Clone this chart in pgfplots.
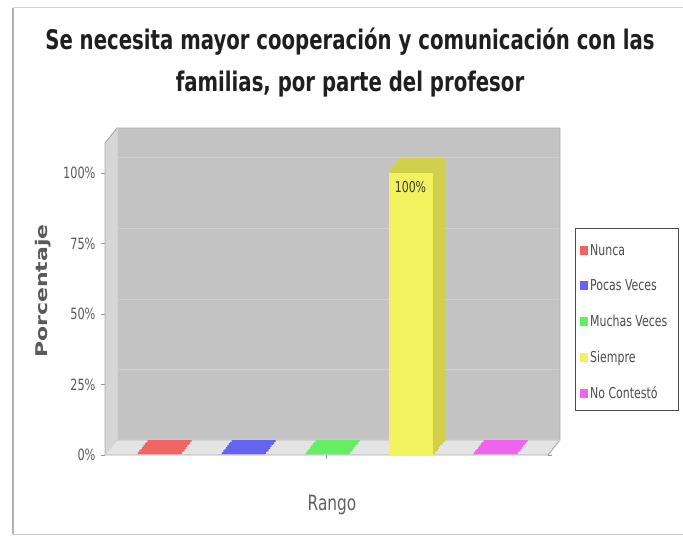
\documentclass[border=0pt]{standalone}
\usepackage{fontspec}
\setmainfont{DejaVu Sans}[FakeStretch=0.73]
\newfontfamily\plainfont{DejaVu Sans}
\usepackage{graphicx}
\usepackage{pgfplots}
\pgfplotsset{compat=1.18}

\definecolor{cN}{HTML}{F06464}
\definecolor{cP}{HTML}{6464F0}
\definecolor{cM}{HTML}{64EE64}
\definecolor{cS}{HTML}{F2F25E}
\definecolor{cC}{HTML}{EE64EE}
\definecolor{cSd}{HTML}{D0D04C}
\definecolor{wallback}{HTML}{C3C3C3}
\definecolor{wallleft}{HTML}{D6D6D6}
\definecolor{wallfloor}{HTML}{E4E4E4}
\definecolor{gridc}{HTML}{D0D0D0}
\definecolor{edgec}{HTML}{A8A8A8}

\tikzset{extrude/.style={
  preaction={draw=#1,fill=#1,line width=2pt,transform canvas={shift={(1.375pt,1.75pt)}}},
  preaction={draw=#1,fill=#1,line width=2pt,transform canvas={shift={(2.75pt,3.5pt)}}},
  preaction={draw=#1,fill=#1,line width=2pt,transform canvas={shift={(4.125pt,5.25pt)}}},
  preaction={draw=#1,fill=#1,line width=2pt,transform canvas={shift={(5.5pt,7pt)}}},
  preaction={draw=#1,fill=#1,line width=2pt,transform canvas={shift={(6.875pt,8.75pt)}}},
  preaction={draw=#1,fill=#1,line width=2pt,transform canvas={shift={(8.25pt,10.5pt)}}},
  preaction={draw=#1,fill=#1,line width=2pt,transform canvas={shift={(9.625pt,12.25pt)}}},
  preaction={draw=#1,fill=#1,line width=2pt,transform canvas={shift={(11pt,14pt)}}}
}}

\pgfplotstableread{
x y
0 0
}\tNunca
\pgfplotstableread{
x y
0 0
}\tPocas
\pgfplotstableread{
x y
0 0
}\tMuchas
\pgfplotstableread{
x y
0 100
}\tSiempre
\pgfplotstableread{
x y
0 0
}\tNoCont

\begin{document}
\begin{tikzpicture}
\path[use as bounding box] (0pt,0pt) rectangle (683pt,536pt);
% outer frame
\draw[gray!35, line width=1pt] (13pt,528pt) -- (700pt,528pt);
\draw[gray!45, line width=1pt] (13pt,2pt) -- (700pt,2pt);
\draw[gray!60, line width=1.6pt] (13pt,2pt) -- (13pt,528pt);

% title
\node[anchor=base, font=\bfseries\fontsize{27}{30}\selectfont, text=black!88] at (350pt,486pt) {Se necesita mayor cooperación y comunicación con las};
\node[anchor=base, font=\bfseries\fontsize{27}{30}\selectfont, text=black!88] at (350pt,444pt) {familias, por parte del profesor};

% legend frame
\draw[gray!60!black, line width=0.8pt, fill=white] (575pt,126pt) rectangle (678pt,308pt);

\begin{axis}[
  at={(105pt,81pt)}, anchor=south west,
  scale only axis, width=443pt, height=312pt,
  xmin=-1, xmax=1, ymin=0, ymax=110.6,
  clip=false,
  axis line style={draw=none},
  xtick={0}, xticklabels={},
  ytick={0,25,50,75,100},
  yticklabels={0\%,25\%,50\%,75\%,100\%},
  tick align=outside, major tick length=4pt,
  tick style={gray!80, line width=0.6pt},
  yticklabel style={font=\fontsize{15.5}{16}\selectfont, text=gray!70!black, xshift=-2pt},
  legend style={at={(1.0655,0.7148)}, anchor=north west, draw=none,
    fill=none, font=\fontsize{15}{16}\selectfont, text=gray!60!black,
    row sep=19pt, inner ysep=10pt, inner xsep=3pt, cells={anchor=west}},
]
% walls
\fill[wallback] ([shift={(12pt,15pt)}]rel axis cs:0,0) rectangle ([shift={(12pt,15pt)}]rel axis cs:1,1);
\fill[wallleft] (rel axis cs:0,0) -- ([shift={(12pt,15pt)}]rel axis cs:0,0) -- ([shift={(12pt,15pt)}]rel axis cs:0,1) -- (rel axis cs:0,1) -- cycle;
\fill[wallfloor] (rel axis cs:0,0) -- (rel axis cs:1,0) -- ([shift={(12pt,15pt)}]rel axis cs:1,0) -- ([shift={(12pt,15pt)}]rel axis cs:0,0) -- cycle;
% grid lines on back wall
\draw[gridc, line width=0.8pt] ([shift={(12pt,15pt)}]axis cs:-1,25) -- ([shift={(12pt,15pt)}]axis cs:1,25);
\draw[gridc, line width=0.8pt] ([shift={(12pt,15pt)}]axis cs:-1,50) -- ([shift={(12pt,15pt)}]axis cs:1,50);
\draw[gridc, line width=0.8pt] ([shift={(12pt,15pt)}]axis cs:-1,75) -- ([shift={(12pt,15pt)}]axis cs:1,75);
\draw[gridc, line width=0.8pt] ([shift={(12pt,15pt)}]axis cs:-1,100) -- ([shift={(12pt,15pt)}]axis cs:1,100);
% edges
\draw[edgec, line width=0.9pt] (rel axis cs:0,0) -- (rel axis cs:1,0) -- ([shift={(12pt,15pt)}]rel axis cs:1,0) -- ([shift={(12pt,15pt)}]rel axis cs:1,1) -- ([shift={(12pt,15pt)}]rel axis cs:0,1) -- (rel axis cs:0,1) -- cycle;
\draw[gray!35, line width=0.6pt] ([shift={(12pt,15pt)}]rel axis cs:0,1) -- ([shift={(12pt,15pt)}]rel axis cs:0,0) -- ([shift={(12pt,15pt)}]rel axis cs:1,0);
\draw[gray!35, line width=0.6pt] (rel axis cs:0,0) -- ([shift={(12pt,15pt)}]rel axis cs:0,0);

% 3D depth of the bars (top and side faces)
\addplot[ybar, bar width=44pt, bar shift=-168pt, fill=cN, draw=none, extrude=cN, forget plot] table {\tNunca};
\addplot[ybar, bar width=44pt, bar shift=-84pt, fill=cP, draw=none, extrude=cP, forget plot] table {\tPocas};
\addplot[ybar, bar width=44pt, bar shift=0pt, fill=cM, draw=none, extrude=cM, forget plot] table {\tMuchas};
\addplot[ybar, bar width=44pt, bar shift=84pt, fill=cS, draw=none, extrude=cSd, forget plot] table {\tSiempre};
\addplot[ybar, bar width=44pt, bar shift=168pt, fill=cC, draw=none, extrude=cC, forget plot] table {\tNoCont};

% front faces
\addplot[ybar, bar width=44pt, bar shift=-168pt, fill=cN, draw=none,
  legend image code/.code={\fill[cN] (0pt,-4.5pt) rectangle (8pt,4.5pt);}] table {\tNunca};
\addlegendentry{Nunca}
\addplot[ybar, bar width=44pt, bar shift=-84pt, fill=cP, draw=none,
  legend image code/.code={\fill[cP] (0pt,-4.5pt) rectangle (8pt,4.5pt);}] table {\tPocas};
\addlegendentry{Pocas Veces}
\addplot[ybar, bar width=44pt, bar shift=0pt, fill=cM, draw=none,
  legend image code/.code={\fill[cM] (0pt,-4.5pt) rectangle (8pt,4.5pt);}] table {\tMuchas};
\addlegendentry{Muchas Veces}
\addplot[ybar, bar width=44pt, bar shift=84pt, fill=cS, draw=none,
  nodes near coords={\pgfmathprintnumber[assume math mode=true]{\pgfplotspointmeta}\%},
  every node near coord/.append style={anchor=north, xshift=84pt, yshift=-5pt, font=\fontsize{15}{16}\selectfont, text=black!75!olive},
  legend image code/.code={\fill[cS] (0pt,-4.5pt) rectangle (8pt,4.5pt);}] table {\tSiempre};
\addlegendentry{Siempre}
\addplot[ybar, bar width=44pt, bar shift=168pt, fill=cC, draw=none,
  legend image code/.code={\fill[cC] (0pt,-4.5pt) rectangle (8pt,4.5pt);}] table {\tNoCont};
\addlegendentry{No Contestó}
\end{axis}

\node[rotate=90, text=gray!70!black] at (43pt,245pt) {\scalebox{1}[0.73]{\plainfont\bfseries\fontsize{22}{24}\selectfont Porcentaje}};
\node[anchor=base, font=\fontsize{21}{24}\selectfont, text=gray!75!black] at (332pt,26pt) {Rango};
\end{tikzpicture}
\end{document}
